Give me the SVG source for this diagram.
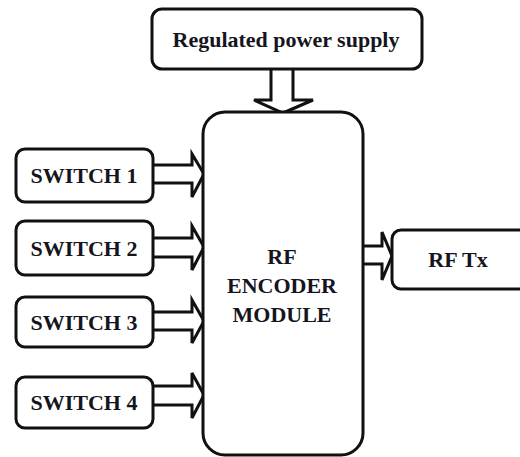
<svg xmlns="http://www.w3.org/2000/svg" width="520" height="457" viewBox="0 0 520 457">
<style>
.box{fill:#fff;stroke:#111;stroke-width:3}
.arr{fill:#fff;stroke:#111;stroke-width:3;stroke-linejoin:miter}
.t{font-family:'Liberation Serif','Times New Roman',serif;font-weight:bold;font-size:22px;fill:#151520;text-anchor:middle}
</style>
<rect width="520" height="457" fill="#fff"/>
<g id="connectors">
<path class="arr" d="M271,69 V100 H254 L283,113 L313,100 H293 V69"/>
<path class="arr" d="M153,165 H192 V154 L204,174 L192,197 V183 H153"/>
<path class="arr" d="M153,238 H192 V226 L204,247 L192,270 V257 H153"/>
<path class="arr" d="M153,312 H192 V300 L204,321 L192,343 V330 H153"/>
<path class="arr" d="M153,386 H192 V373 L204,395 L192,418 V405 H153"/>
<path class="arr" d="M363,246 H382 V232 L392,256 L382,280 V264 H363"/>
</g>
<g id="power">
<rect class="box" x="152" y="9" width="270" height="60" rx="10"/>
<text class="t" x="286" y="47">Regulated power supply</text>
</g>
<g id="encoder">
<rect class="box" x="203" y="112" width="160" height="343" rx="22"/>
<text class="t" x="282" y="264">RF</text>
<text class="t" x="282" y="293">ENCODER</text>
<text class="t" x="282" y="322">MODULE</text>
</g>
<g id="switch1">
<rect class="box" x="16" y="149" width="137" height="53" rx="9"/>
<text class="t" x="84" y="183">SWITCH 1</text>
</g>
<g id="switch2">
<rect class="box" x="16" y="221" width="137" height="54" rx="9"/>
<text class="t" x="84" y="256">SWITCH 2</text>
</g>
<g id="switch3">
<rect class="box" x="16" y="297" width="137" height="50" rx="9"/>
<text class="t" x="84" y="330">SWITCH 3</text>
</g>
<g id="switch4">
<rect class="box" x="16" y="377" width="137" height="51" rx="9"/>
<text class="t" x="84" y="410">SWITCH 4</text>
</g>
<g id="rftx">
<rect class="box" x="392" y="230" width="140" height="59" rx="9"/>
<text class="t" x="458" y="267">RF Tx</text>
</g>
</svg>
